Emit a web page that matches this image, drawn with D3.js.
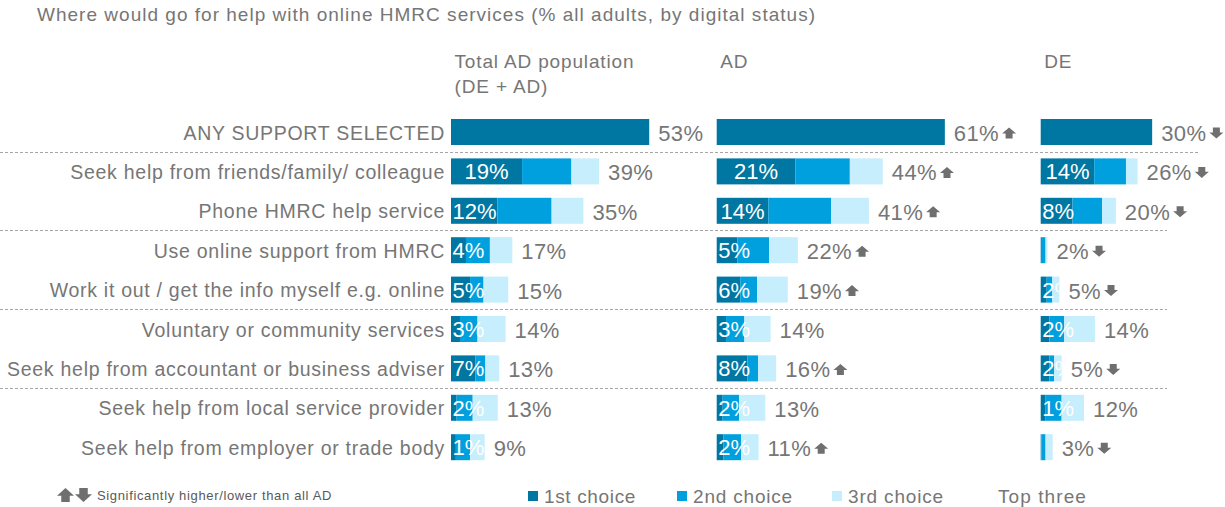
<!DOCTYPE html>
<html><head><meta charset="utf-8">
<script src="https://cdn.jsdelivr.net/npm/d3@7"></script>
<style>html,body{margin:0;padding:0;background:#fff;} svg{display:block;font-family:"Liberation Sans",Arial,sans-serif;}</style>
</head><body><svg id="c" width="1225" height="507"></svg>
<script>
const title = "Where would go for help with online HMRC services (% all adults, by digital status)";
const categories = [
  "ANY SUPPORT SELECTED",
  "Seek help from friends/family/ colleague",
  "Phone HMRC help service",
  "Use online support from HMRC",
  "Work it out / get the info myself e.g. online",
  "Voluntary or community services",
  "Seek help from accountant or business adviser",
  "Seek help from local service provider",
  "Seek help from employer or trade body"
];
const panelHeaders = [["Total AD population", "(DE + AD)"], ["AD"], ["DE"]];

// Total AD population (DE + AD)
const totalFirst  = [53, 19.0, 12.4, 4.0, 5.1, 2.4, 6.5, 1.5, 1.3];
const totalSecond = [0, 13.2, 14.5, 6.4, 3.6, 4.7, 2.7, 4.3, 3.8];
const totalThird  = [0, 7.4, 8.5, 6.0, 6.6, 7.5, 3.7, 6.7, 3.9];
const totalFirstLabels = ["", "19%", "12%", "4%", "5%", "3%", "7%", "2%", "1%"];
const totalTopLabels   = ["53%", "39%", "35%", "17%", "15%", "14%", "13%", "13%", "9%"];
const totalSig = ["", "", "", "", "", "", "", "", ""];

// AD
const adFirst  = [61, 21.0, 13.8, 5.5, 6.3, 2.5, 8.2, 1.6, 1.8];
const adSecond = [0, 14.6, 16.8, 8.5, 4.5, 4.9, 2.9, 4.4, 4.7];
const adThird  = [0, 8.8, 10.1, 7.7, 8.2, 7.0, 4.8, 7.0, 4.7];
const adFirstLabels = ["", "21%", "14%", "5%", "6%", "3%", "8%", "2%", "2%"];
const adTopLabels   = ["61%", "44%", "41%", "22%", "19%", "14%", "16%", "13%", "11%"];
const adSig = ["up", "up", "up", "up", "up", "", "up", "", "up"];

// DE
const deFirst  = [29.8, 14.3, 8.5, 0.3, 1.6, 2.3, 2.3, 1.2, 0.2];
const deSecond = [0, 8.5, 7.9, 1.0, 1.5, 4.0, 1.3, 4.4, 1.1];
const deThird  = [0, 3.1, 3.7, 0.5, 1.9, 8.2, 2.0, 6.0, 1.9];
const deFirstLabels = ["", "14%", "8%", "", "2%", "2%", "2%", "1%", ""];
const deTopLabels   = ["30%", "26%", "20%", "2%", "5%", "14%", "5%", "12%", "3%"];
const deSig = ["down", "down", "down", "down", "down", "", "down", "", "down"];

const legendLabels = ["1st choice", "2nd choice", "3rd choice", "Top three"];
const footnote = "Significantly higher/lower than all AD";

// ---------- drawing ----------
const colors = ["#0077A3", "#00A0DF", "#C6EEFC"];
const gray = "#767676";
const svg = d3.select("#c");

const panels = [
  {first: totalFirst, second: totalSecond, third: totalThird, fl: totalFirstLabels, tl: totalTopLabels, sig: totalSig, x0: 451},
  {first: adFirst, second: adSecond, third: adThird, fl: adFirstLabels, tl: adTopLabels, sig: adSig, x0: 716.7},
  {first: deFirst, second: deSecond, third: deThird, fl: deFirstLabels, tl: deTopLabels, sig: deSig, x0: 1040.7}
];

const y = d3.scaleBand().domain(categories).range([112.3, 466.9]).paddingInner(0.34).paddingOuter(0.17);
const bw = y.bandwidth();

function fitSpacing(sel, target) {
  const n = sel.node();
  const w = n.getComputedTextLength();
  const len = n.textContent.length;
  sel.attr("letter-spacing", Math.max(0, (target - w) / len));
}

// title
const tNode = svg.append("text").attr("x", 37).attr("y", 21).attr("fill", gray)
  .attr("font-size", 19).text(title);
fitSpacing(tNode, 779);

// separators
const sepAfter = [0, 2, 4, 6];
const sepEnd = [1198, 1167, 1167, 1167];
sepAfter.forEach((i, k) => {
  const yy = Math.round((y(categories[i]) + bw + y(categories[i + 1])) / 2) + 0.5;
  svg.append("line").attr("x1", 0).attr("x2", sepEnd[k]).attr("y1", yy).attr("y2", yy)
    .attr("stroke", "#a6a6a6").attr("stroke-width", 1).attr("stroke-dasharray", "3,2");
});

// category labels
const catG = svg.append("g");
const catTexts = catG.selectAll("text").data(categories).join("text")
  .attr("x", 445).attr("y", d => y(d) + bw / 2 + 7.5)
  .attr("text-anchor", "end").attr("fill", gray).attr("font-size", 19.5).text(d => d);
const w6 = catTexts.nodes()[6].getComputedTextLength();
catTexts.attr("letter-spacing", Math.max(0, (438 - w6) / categories[6].length));

function arrowPath(x, cy, dir, w, h) {
  const hh = h * 0.55, sw = w * 0.5;
  if (dir === "up") {
    const top = cy - h / 2, base = top + hh, bot = cy + h / 2;
    return `M${x},${base}L${x + w / 2},${top}L${x + w},${base}L${x + w / 2 + sw / 2},${base}L${x + w / 2 + sw / 2},${bot}L${x + w / 2 - sw / 2},${bot}L${x + w / 2 - sw / 2},${base}Z`;
  } else {
    const bot = cy + h / 2, base = bot - hh, top = cy - h / 2;
    return `M${x},${base}L${x + w / 2},${bot}L${x + w},${base}L${x + w / 2 + sw / 2},${base}L${x + w / 2 + sw / 2},${top}L${x + w / 2 - sw / 2},${top}L${x + w / 2 - sw / 2},${base}Z`;
  }
}

panels.forEach((p, pi) => {
  const x = d3.scaleLinear().domain([0, 100]).range([p.x0, p.x0 + 374]);
  const g = svg.append("g");
  panelHeaders[pi].forEach((line, li) => {
    g.append("text").attr("x", p.x0 + 3.5).attr("y", 68 + li * 25).attr("fill", gray)
      .attr("font-size", 19).attr("letter-spacing", 0.85).text(line);
  });
  categories.forEach((c, i) => {
    const vals = [p.first[i], p.second[i], p.third[i]];
    let acc = 0;
    const yy = y(c);
    vals.forEach((v, k) => {
      if (v > 0) {
        g.append("rect").attr("x", x(acc)).attr("y", yy).attr("width", x(acc + v) - x(acc)).attr("height", bw)
          .attr("fill", colors[k]);
      }
      acc += v;
    });
    const total = acc;
    const cid = `clip-${pi}-${i}`;
    g.append("clipPath").attr("id", cid).append("rect")
      .attr("x", x(0)).attr("y", yy).attr("width", x(total) - x(0)).attr("height", bw);
    if (p.fl[i]) {
      const t = g.append("text").attr("y", yy + bw / 2 + 8).attr("fill", "#fff").attr("font-size", 22)
        .attr("text-anchor", "middle").attr("clip-path", `url(#${cid})`).text(p.fl[i]);
      const tw = t.node().getComputedTextLength();
      const segC = (x(0) + x(p.first[i])) / 2;
      t.attr("x", Math.max(segC, x(0) + tw / 2 + 1.5));
    }
    const tt = g.append("text").attr("x", x(total) + 9).attr("y", yy + bw / 2 + 9).attr("fill", gray)
      .attr("font-size", 22).attr("letter-spacing", 0.4).text(p.tl[i]);
    if (p.sig[i]) {
      const ex = x(total) + 9 + tt.node().getComputedTextLength() + 3;
      g.append("path").attr("d", arrowPath(ex, yy + bw / 2 + 1, p.sig[i], 14, 11)).attr("fill", "#6f6f6f");
    }
  });
});

// legend
const lg = svg.append("g");
const legX = [528, 677, 832, 998];
const legW = [92, 100, 96, 89];
legendLabels.forEach((l, i) => {
  const tx = i < 3 ? legX[i] + 16 : legX[i];
  if (i < 3) {
    lg.append("rect").attr("x", legX[i]).attr("y", 491).attr("width", 10).attr("height", 10).attr("fill", colors[i]);
  }
  const t = lg.append("text").attr("x", tx).attr("y", 503).attr("fill", gray).attr("font-size", 19).text(l);
  fitSpacing(t, legW[i]);
});

// footnote
svg.append("path").attr("d", arrowPath(57, 495, "up", 17, 14)).attr("fill", "#6f6f6f");
svg.append("path").attr("d", arrowPath(75, 495, "down", 17, 14)).attr("fill", "#6f6f6f");
const fn = svg.append("text").attr("x", 97).attr("y", 499.5).attr("fill", "#595959").attr("font-size", 13).text(footnote);
fitSpacing(fn, 235);
</script></body></html>
